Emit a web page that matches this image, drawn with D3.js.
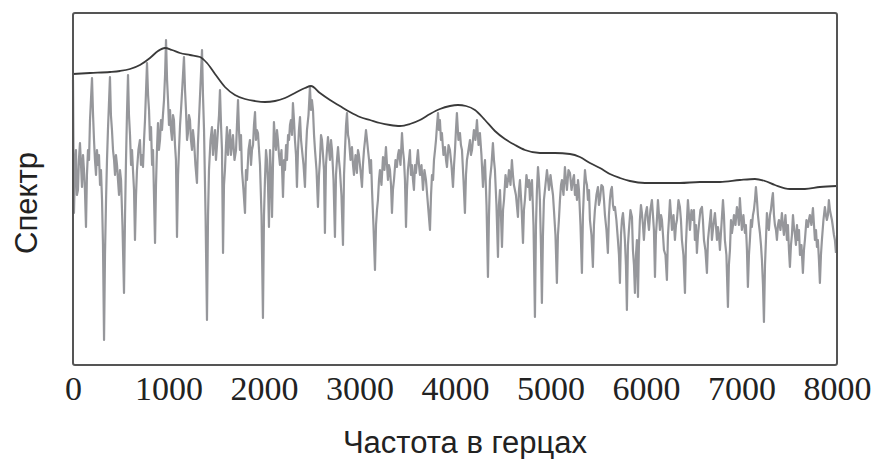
<!DOCTYPE html>
<html><head><meta charset="utf-8">
<script src="https://cdn.jsdelivr.net/npm/d3@7"></script>
<style>html,body{margin:0;padding:0;background:#fff;}svg{display:block;}</style>
</head><body><svg id="c" width="876" height="459"></svg>
<script>
// ---- data ----
const xTicks = [0,1000,2000,3000,4000,5000,6000,7000,8000];
const xTitle = "Частота в герцах";
const yTitle = "Спектр";

// noisy spectrum (gray): [frequency in Hz, level in arbitrary units]
const spectrum = [[0,285],[10,152],[20,195],[31,215],[41,170],[52,175],[62,205],[73,222],[84,200],[94,178],[105,210],[115,195],[125,175],[136,138],[146,190],[157,215],[168,205],[178,245],[188,265],[199,287],[210,250],[220,225],[230,205],[241,190],[251,215],[262,200],[272,210],[283,180],[293,195],[304,165],[314,120],[325,25],[335,110],[346,165],[356,205],[366,235],[376,260],[387,288],[397,250],[408,235],[419,215],[430,205],[440,190],[450,210],[461,200],[471,185],[482,170],[492,195],[503,185],[518,140],[534,72],[545,150],[555,205],[565,250],[576,290],[586,250],[597,230],[608,200],[618,215],[628,195],[639,175],[649,125],[660,170],[670,195],[685,215],[701,225],[712,200],[722,210],[733,198],[744,225],[754,245],[765,275],[775,302],[786,270],[796,255],[806,225],[817,238],[828,200],[838,215],[848,170],[859,122],[869,180],[879,215],[890,242],[900,215],[911,225],[921,245],[932,235],[942,250],[953,265],[964,290],[974,325],[985,285],[995,265],[1005,240],[1016,255],[1026,235],[1037,225],[1047,250],[1057,245],[1068,220],[1078,205],[1089,128],[1100,190],[1110,215],[1121,240],[1131,255],[1146,280],[1162,308],[1173,275],[1183,255],[1194,225],[1204,232],[1214,250],[1225,245],[1235,225],[1246,215],[1256,235],[1267,225],[1282,200],[1298,182],[1308,220],[1319,245],[1335,280],[1351,315],[1361,270],[1372,235],[1388,150],[1403,45],[1414,150],[1424,195],[1440,225],[1455,238],[1466,210],[1476,225],[1487,235],[1497,205],[1508,220],[1518,235],[1529,250],[1539,275],[1550,240],[1560,215],[1571,112],[1581,180],[1591,195],[1602,220],[1612,238],[1623,210],[1633,225],[1644,235],[1654,210],[1665,220],[1675,230],[1691,205],[1707,215],[1717,240],[1728,265],[1738,235],[1748,215],[1759,230],[1769,195],[1785,175],[1801,152],[1811,195],[1822,185],[1838,215],[1853,225],[1864,200],[1874,215],[1885,220],[1895,240],[1906,253],[1916,225],[1926,235],[1937,232],[1948,215],[1958,200],[1974,150],[1989,47],[2000,150],[2010,185],[2021,215],[2031,205],[2042,180],[2052,138],[2063,215],[2074,190],[2084,148],[2094,200],[2104,243],[2115,225],[2125,215],[2136,235],[2146,225],[2157,210],[2167,200],[2183,215],[2199,168],[2210,205],[2220,195],[2231,220],[2241,205],[2252,230],[2262,225],[2272,240],[2282,245],[2293,230],[2303,262],[2314,245],[2324,225],[2335,210],[2345,178],[2356,215],[2366,235],[2377,248],[2388,225],[2398,215],[2414,200],[2429,178],[2440,215],[2450,235],[2466,250],[2481,278],[2492,255],[2502,265],[2513,255],[2524,230],[2534,215],[2550,195],[2565,158],[2576,190],[2586,205],[2597,230],[2607,225],[2618,210],[2628,195],[2638,132],[2649,200],[2659,215],[2670,228],[2681,215],[2691,205],[2702,225],[2712,215],[2728,185],[2743,128],[2754,190],[2764,205],[2775,218],[2785,205],[2795,195],[2811,170],[2827,120],[2838,190],[2848,215],[2859,240],[2869,252],[2880,230],[2890,225],[2906,205],[2921,218],[2932,200],[2942,190],[2958,210],[2973,192],[2984,215],[2994,210],[3010,195],[3026,178],[3036,200],[3047,215],[3058,225],[3068,235],[3079,225],[3089,215],[3100,205],[3110,192],[3121,205],[3131,175],[3146,140],[3162,95],[3173,140],[3183,155],[3193,165],[3204,185],[3214,195],[3230,180],[3246,208],[3261,195],[3277,218],[3288,200],[3298,185],[3308,200],[3319,195],[3330,180],[3340,152],[3350,175],[3361,185],[3377,205],[3392,198],[3403,210],[3413,215],[3429,200],[3445,232],[3455,215],[3466,205],[3476,185],[3487,138],[3497,175],[3507,195],[3518,205],[3528,215],[3539,190],[3549,200],[3560,185],[3570,175],[3581,200],[3591,192],[3602,205],[3612,215],[3623,200],[3633,190],[3649,200],[3665,175],[3680,195],[3696,185],[3717,160],[3738,135],[3749,170],[3759,190],[3770,185],[3780,205],[3791,215],[3801,225],[3812,240],[3822,252],[3832,235],[3842,245],[3853,225],[3863,232],[3879,210],[3895,218],[3906,205],[3916,198],[3932,220],[3947,215],[3963,200],[3979,178],[3990,200],[4000,215],[4010,235],[4020,252],[4036,225],[4052,232],[4062,220],[4073,215],[4089,185],[4104,152],[4115,190],[4125,205],[4141,215],[4157,225],[4167,210],[4178,215],[4188,225],[4198,235],[4214,225],[4230,245],[4246,220],[4261,232],[4277,210],[4293,178],[4303,195],[4314,205],[4330,160],[4345,88],[4356,150],[4366,185],[4382,200],[4397,222],[4408,205],[4418,195],[4434,160],[4450,108],[4460,160],[4471,175],[4481,150],[4492,118],[4503,155],[4513,165],[4529,190],[4544,178],[4555,185],[4565,195],[4581,180],[4596,205],[4607,190],[4617,180],[4638,170],[4659,148],[4670,175],[4680,185],[4696,160],[4712,122],[4722,155],[4732,165],[4748,190],[4764,178],[4775,185],[4785,165],[4796,180],[4806,185],[4822,140],[4837,48],[4848,140],[4858,175],[4869,198],[4879,185],[4889,165],[4900,120],[4910,62],[4921,130],[4931,165],[4947,180],[4963,195],[4974,185],[4984,175],[5000,190],[5015,178],[5026,170],[5036,155],[5052,130],[5067,82],[5078,130],[5088,145],[5099,165],[5110,180],[5120,185],[5136,170],[5151,198],[5162,185],[5172,175],[5188,195],[5204,192],[5220,175],[5235,185],[5246,190],[5256,170],[5267,180],[5277,165],[5288,185],[5298,175],[5314,140],[5329,92],[5340,150],[5350,175],[5361,195],[5371,185],[5382,180],[5392,165],[5403,175],[5413,145],[5429,130],[5444,98],[5455,140],[5465,155],[5481,170],[5497,178],[5507,160],[5518,165],[5533,180],[5549,178],[5560,165],[5570,150],[5586,135],[5601,112],[5612,150],[5622,165],[5633,175],[5643,178],[5654,160],[5664,155],[5675,158],[5690,145],[5706,125],[5717,110],[5727,82],[5738,130],[5748,145],[5759,152],[5769,140],[5779,125],[5790,100],[5800,55],[5811,120],[5821,135],[5837,155],[5853,148],[5863,115],[5874,100],[5884,72],[5895,110],[5905,125],[5916,68],[5926,120],[5936,145],[5947,160],[5957,152],[5968,140],[5978,125],[5994,150],[6010,158],[6020,145],[6031,135],[6046,155],[6062,165],[6073,150],[6083,135],[6094,88],[6104,130],[6114,145],[6125,165],[6136,150],[6146,135],[6157,150],[6167,145],[6178,130],[6188,115],[6204,110],[6219,85],[6230,130],[6240,145],[6251,165],[6262,150],[6272,135],[6288,150],[6303,125],[6314,140],[6324,145],[6340,165],[6355,158],[6366,145],[6376,125],[6392,110],[6408,72],[6418,120],[6429,145],[6439,165],[6450,150],[6460,135],[6476,155],[6491,145],[6502,155],[6512,125],[6523,140],[6533,112],[6544,130],[6554,140],[6570,155],[6586,158],[6596,145],[6607,125],[6622,115],[6638,92],[6649,125],[6659,135],[6670,145],[6680,155],[6690,125],[6706,140],[6722,152],[6732,140],[6743,125],[6753,138],[6764,130],[6774,115],[6790,140],[6806,165],[6816,150],[6826,125],[6842,110],[6858,58],[6868,100],[6879,115],[6890,145],[6900,132],[6911,140],[6921,150],[6937,140],[6952,158],[6963,150],[6973,140],[6983,167],[6994,150],[7004,135],[7020,150],[7036,132],[7046,140],[7057,115],[7067,78],[7078,110],[7088,125],[7099,145],[7109,138],[7120,150],[7130,155],[7141,165],[7151,178],[7162,165],[7172,150],[7183,140],[7193,132],[7204,120],[7214,105],[7225,80],[7235,43],[7246,100],[7256,125],[7266,152],[7277,140],[7287,135],[7298,150],[7308,155],[7319,165],[7329,172],[7340,150],[7350,140],[7361,135],[7371,125],[7382,140],[7392,145],[7408,135],[7423,152],[7434,140],[7444,130],[7460,150],[7476,125],[7486,140],[7497,115],[7507,98],[7518,120],[7528,130],[7539,150],[7549,138],[7560,130],[7570,120],[7581,140],[7591,125],[7602,135],[7612,110],[7628,120],[7643,92],[7654,115],[7664,125],[7680,145],[7696,138],[7706,145],[7716,150],[7732,140],[7748,157],[7759,140],[7769,125],[7780,135],[7790,118],[7800,125],[7811,105],[7821,82],[7832,110],[7842,125],[7858,145],[7873,158],[7884,150],[7894,145],[7905,150],[7915,165],[7926,155],[7936,150],[7947,145],[7957,138],[7968,130],[7978,125],[7989,112]];

// smooth envelope (dark)
const envelopeHz = [0,178,387,492,597,701,806,890,963,1037,1120,1225,1330,1403,1487,1591,1696,1801,1906,2010,2115,2220,2324,2429,2492,2586,2691,2795,2900,3005,3110,3214,3319,3424,3528,3633,3738,3842,3947,4031,4115,4209,4314,4418,4523,4628,4732,4889,5047,5204,5308,5413,5518,5622,5727,5832,5989,6146,6355,6565,6774,6983,7141,7245,7350,7507,7664,7821,8000];
const envelopeLevel = [291,292,293,294,296,300,307,314,317,315,312,310,308,302,291,278,270,266,264,263,264,267,272,277,279,272,265,259,253,248,245,242,240,239,241,245,251,256,259,260,259,255,245,234,226,220,215,212,212,211,208,202,197,191,187,184,182,182,182,183,183,185,186,184,180,176,176,178,179];

// ---- drawing ----
const svg = d3.select("#c");
const plot = {left:73, right:837, top:13, bottom:365};
const x = d3.scaleLinear().domain([0,8000]).range([plot.left, plot.right]);
const y = d3.scaleLinear().domain([0,350]).range([plot.bottom, plot.bottom-350]);

const env = envelopeHz.map((f,i)=>[f, envelopeLevel[i]]);

svg.append("path")
  .datum(spectrum)
  .attr("fill","none")
  .attr("stroke","#96979b")
  .attr("stroke-width",2.2)
  .attr("stroke-linejoin","round")
  .attr("d", d3.line().x(d=>x(d[0])).y(d=>y(d[1])));

svg.append("path")
  .datum(env)
  .attr("fill","none")
  .attr("stroke","#3a3a3a")
  .attr("stroke-width",1.8)
  .attr("d", d3.line().curve(d3.curveMonotoneX).x(d=>x(d[0])).y(d=>y(d[1])));

svg.append("rect")
  .attr("x",plot.left).attr("y",plot.top)
  .attr("width",plot.right-plot.left).attr("height",plot.bottom-plot.top)
  .attr("rx",2)
  .attr("fill","none").attr("stroke","#555").attr("stroke-width",2);

const xAxis = svg.append("g")
  .attr("transform",`translate(0,${plot.bottom})`)
  .call(d3.axisBottom(x).tickValues(xTicks).tickFormat(d3.format("d")).tickSize(0).tickPadding(11));
xAxis.select(".domain").remove();
xAxis.selectAll("text")
  .attr("font-family","'Liberation Serif','Times New Roman',serif")
  .attr("font-size",34)
  .attr("fill","#222");

svg.append("text")
  .attr("x",465).attr("y",453)
  .attr("text-anchor","middle")
  .attr("font-family","'Liberation Sans',Arial,sans-serif")
  .attr("font-size",31)
  .attr("fill","#222")
  .text(xTitle);

svg.append("text")
  .attr("transform","translate(37,203) rotate(-90)")
  .attr("text-anchor","middle")
  .attr("font-family","'Liberation Sans',Arial,sans-serif")
  .attr("font-size",31)
  .attr("fill","#222")
  .text(yTitle);
</script>
</body></html>
